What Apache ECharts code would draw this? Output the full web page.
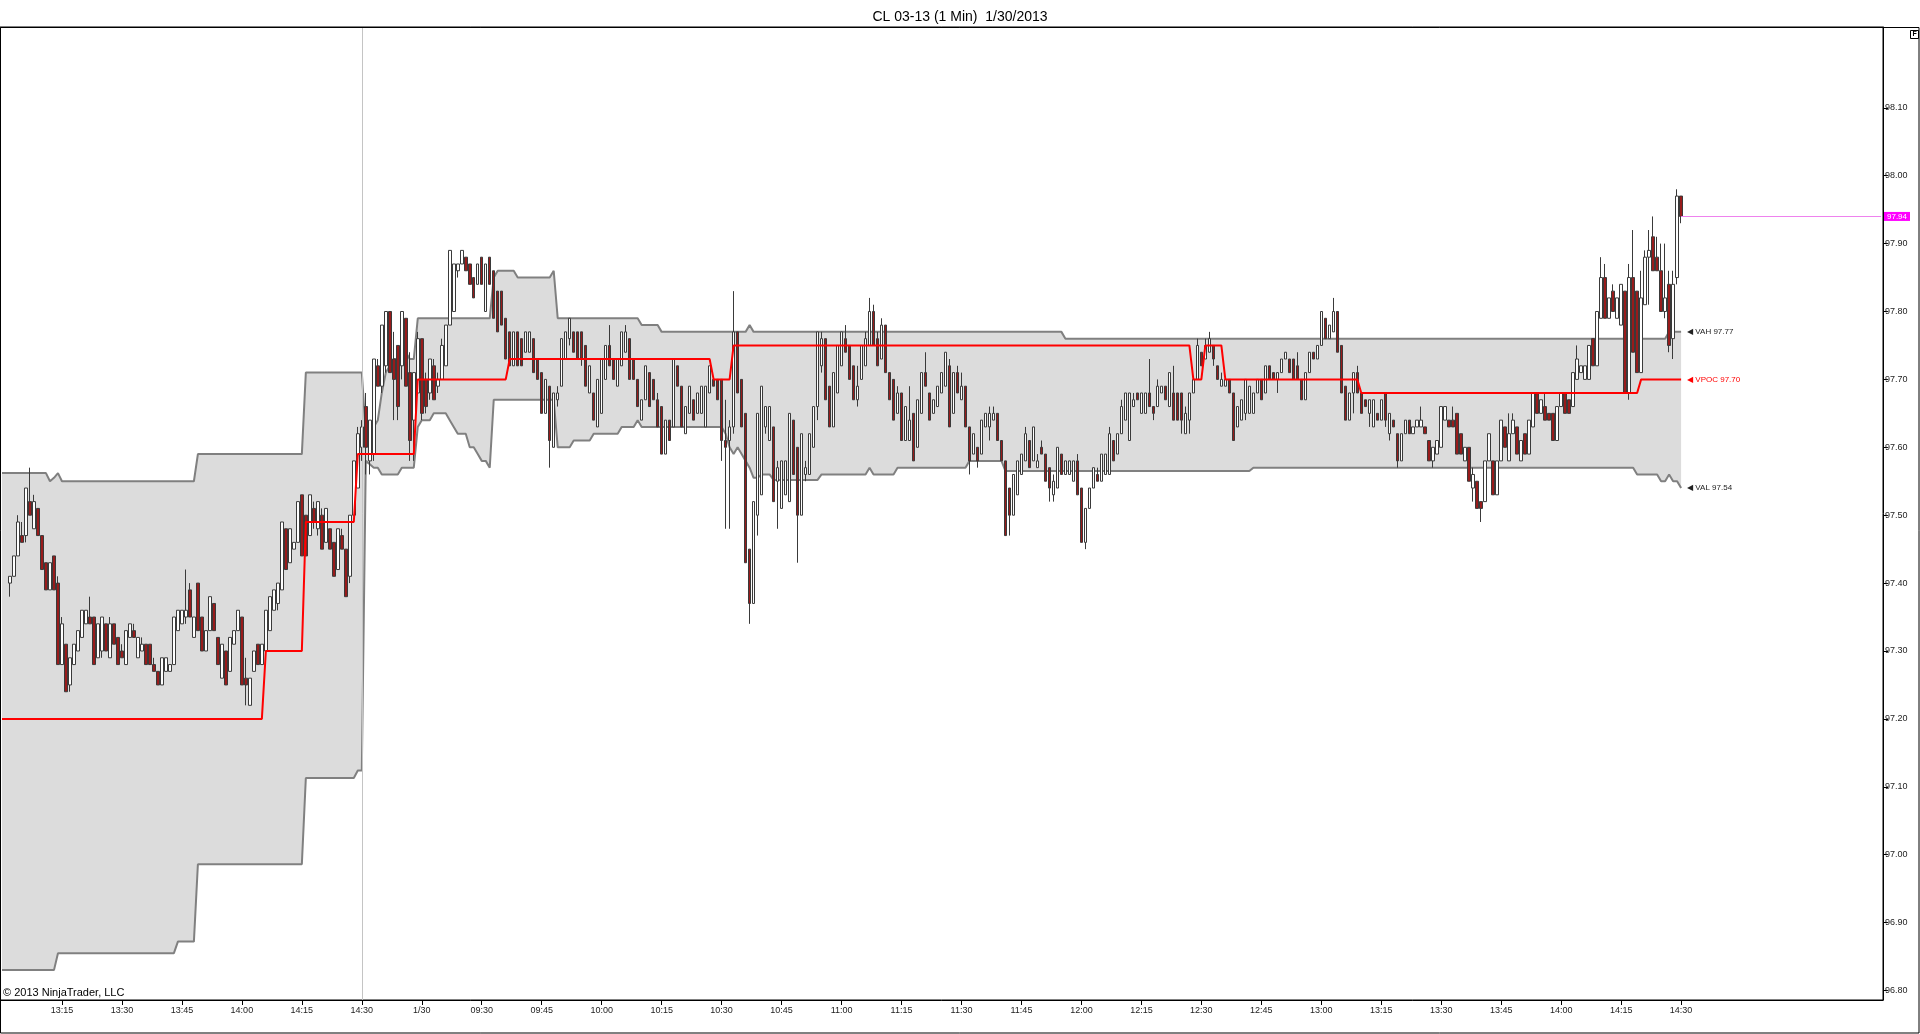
<!DOCTYPE html>
<html><head><meta charset="utf-8">
<script src="https://cdn.jsdelivr.net/npm/echarts@6/dist/echarts.min.js"></script>
<style>html,body{margin:0;padding:0;background:#fff}#c{width:1920px;height:1034px}</style>
</head><body><div id="c"></div><script>
const chartTitle = 'CL 03-13 (1 Min)  1/30/2013';
const copyright = '\u00A9 2013 NinjaTrader, LLC';
const yTickValues = [96.8,96.9,97.0,97.1,97.2,97.3,97.4,97.5,97.6,97.7,97.8,97.9,98.0,98.1];
const xTickIndex = [15,30,45,60,75,90,105,120,135,150,165,180,195,210,225,240,255,270,285,300,315,330,345,360,375,390,405,420];
const xTickLabels = ['13:15','13:30','13:45','14:00','14:15','14:30','1/30','09:30','09:45','10:00','10:15','10:30','10:45','11:00','11:15','11:30','11:45','12:00','12:15','12:30','12:45','13:00','13:15','13:30','13:45','14:00','14:15','14:30'];
const lastPrice = 97.94;
const endTexts = {vah:'VAH 97.77', vpoc:'VPOC 97.70', val:'VAL 97.54'};

// previous session bars (1/29 13:00 .. 14:30), [open, close, low, high]
const prevBars = [null,null,
[97.40,97.41,97.38,97.41],[97.41,97.44,97.41,97.44],[97.44,97.49,97.44,97.50],[97.47,97.46,97.46,97.49],[97.47,97.54,97.46,97.54],
[97.52,97.50,97.50,97.57],[97.48,97.52,97.48,97.53],[97.51,97.47,97.47,97.51],[97.47,97.42,97.42,97.47],[97.43,97.39,97.39,97.43],
[97.39,97.43,97.39,97.43],[97.44,97.39,97.39,97.44],[97.40,97.28,97.28,97.41],[97.28,97.34,97.28,97.35],[97.31,97.24,97.24,97.31],
[97.25,97.29,97.24,97.29],[97.28,97.31,97.28,97.31],[97.30,97.33,97.30,97.33],[97.32,97.36,97.32,97.36],[97.34,97.36,97.34,97.36],
[97.35,97.34,97.34,97.38],[97.35,97.28,97.28,97.35],[97.29,97.34,97.29,97.34],[97.30,97.35,97.29,97.35],[97.34,97.30,97.30,97.34],
[97.29,97.34,97.29,97.35],[97.34,97.31,97.31,97.34],[97.32,97.28,97.28,97.32],[97.30,97.29,97.29,97.31],[97.28,97.33,97.28,97.33],
[97.32,97.34,97.32,97.34],[97.33,97.32,97.32,97.34],[97.29,97.32,97.29,97.32],[97.30,97.31,97.30,97.32],[97.31,97.28,97.28,97.31],
[97.31,97.28,97.28,97.31],[97.28,97.27,97.27,97.29],[97.27,97.25,97.25,97.27],[97.25,97.29,97.25,97.29],[97.27,97.29,97.27,97.29],
[97.27,97.28,97.27,97.28],[97.28,97.35,97.28,97.35],[97.33,97.36,97.33,97.36],[97.34,97.36,97.34,97.36],[97.35,97.36,97.34,97.42],
[97.39,97.35,97.35,97.40],[97.32,97.35,97.32,97.35],[97.40,97.33,97.33,97.40],[97.35,97.30,97.30,97.35],[97.30,97.33,97.30,97.33],
[97.33,97.38,97.33,97.38],[97.37,97.33,97.33,97.37],[97.32,97.28,97.28,97.32],[97.26,97.31,97.26,97.31],[97.30,97.25,97.25,97.30],
[97.27,97.32,97.27,97.32],[97.31,97.33,97.31,97.33],[97.33,97.36,97.33,97.36],[97.35,97.25,97.25,97.35],[97.26,97.25,97.22,97.29],
[97.22,97.26,97.22,97.26],[97.27,97.30,97.27,97.30],[97.31,97.28,97.28,97.31],[97.28,97.31,97.28,97.31],[97.30,97.36,97.30,97.36],
[97.33,97.38,97.33,97.38],[97.36,97.39,97.36,97.39],[97.37,97.40,97.36,97.40],[97.39,97.49,97.39,97.49],[97.48,97.42,97.42,97.48],
[97.43,97.48,97.43,97.48],[97.45,97.46,97.45,97.46],[97.46,97.52,97.46,97.52],[97.53,97.44,97.44,97.53],[97.50,97.44,97.44,97.50],
[97.47,97.53,97.47,97.53],[97.51,97.49,97.48,97.52],[97.48,97.52,97.47,97.52],[97.50,97.45,97.45,97.51],[97.46,97.51,97.46,97.51],
[97.48,97.45,97.45,97.48],[97.46,97.41,97.41,97.46],[97.42,97.48,97.42,97.48],[97.47,97.45,97.45,97.48],[97.45,97.38,97.38,97.45],
[97.41,97.50,97.40,97.50],[97.50,97.58,97.50,97.58],[97.54,97.62,97.54,97.63],[97.60,97.63,97.58,97.64]
];

// current session bars (1/30 09:01 .. 14:30), [open, close, low, high]
const todayBars = [
[97.66,97.60,97.56,97.68],[97.58,97.64,97.56,97.64],[97.59,97.73,97.58,97.73],[97.72,97.69,97.69,97.73],[97.69,97.78,97.68,97.78],
[97.72,97.80,97.71,97.80],[97.80,97.71,97.71,97.80],[97.73,97.70,97.64,97.77],[97.75,97.66,97.64,97.75],[97.72,97.80,97.70,97.80],
[97.79,97.69,97.69,97.79],[97.71,97.61,97.58,97.74],[97.64,97.71,97.58,97.71],[97.68,97.76,97.68,97.77],[97.76,97.65,97.64,97.76],
[97.70,97.66,97.65,97.71],[97.68,97.73,97.67,97.73],[97.72,97.67,97.67,97.73],[97.69,97.70,97.68,97.71],[97.70,97.75,97.70,97.76],
[97.72,97.78,97.72,97.78],[97.78,97.89,97.78,97.89],[97.80,97.87,97.80,97.87],[97.86,97.87,97.85,97.87],[97.87,97.89,97.87,97.89],
[97.88,97.86,97.86,97.88],[97.87,97.84,97.84,97.87],[97.85,97.82,97.82,97.85],[97.84,97.87,97.84,97.87],[97.88,97.84,97.84,97.88],
[97.80,97.87,97.80,97.87],[97.88,97.84,97.84,97.88],[97.86,97.79,97.79,97.86],[97.83,97.77,97.77,97.83],[97.83,97.78,97.78,97.83],
[97.79,97.73,97.73,97.79],[97.77,97.72,97.72,97.77],[97.72,97.77,97.72,97.77],[97.77,97.72,97.72,97.77],[97.76,97.72,97.72,97.76],
[97.74,97.77,97.74,97.77],[97.74,97.77,97.74,97.77],[97.76,97.71,97.71,97.76],[97.73,97.70,97.70,97.73],[97.71,97.65,97.65,97.71],
[97.65,97.70,97.65,97.70],[97.69,97.61,97.57,97.69],[97.60,97.68,97.60,97.68],[97.67,97.68,97.66,97.69],[97.69,97.76,97.69,97.76],
[97.73,97.77,97.73,97.77],[97.76,97.79,97.75,97.79],[97.77,97.74,97.74,97.77],[97.77,97.73,97.73,97.77],[97.77,97.73,97.72,97.77],
[97.75,97.69,97.69,97.75],[97.68,97.72,97.68,97.72],[97.68,97.64,97.64,97.68],[97.63,97.70,97.63,97.70],[97.65,97.73,97.65,97.73],
[97.70,97.75,97.70,97.75],[97.75,97.72,97.72,97.78],[97.73,97.70,97.70,97.73],[97.69,97.73,97.69,97.73],[97.72,97.77,97.72,97.77],
[97.74,97.77,97.74,97.78],[97.76,97.70,97.70,97.76],[97.73,97.70,97.70,97.73],[97.70,97.66,97.66,97.70],[97.64,97.67,97.64,97.67],
[97.67,97.72,97.67,97.72],[97.71,97.66,97.66,97.71],[97.70,97.67,97.67,97.70],[97.67,97.63,97.63,97.68],[97.66,97.59,97.59,97.66],
[97.59,97.64,97.59,97.64],[97.64,97.61,97.61,97.64],[97.63,97.73,97.63,97.73],[97.72,97.69,97.69,97.72],[97.69,97.63,97.63,97.69],
[97.62,97.66,97.62,97.66],[97.65,97.69,97.65,97.69],[97.67,97.64,97.64,97.67],[97.65,97.68,97.65,97.68],[97.65,97.69,97.65,97.69],
[97.63,97.69,97.63,97.69],[97.68,97.72,97.68,97.72],[97.70,97.69,97.69,97.70],[97.70,97.67,97.67,97.70],[97.70,97.61,97.58,97.70],
[97.61,97.60,97.48,97.67],[97.61,97.63,97.48,97.64],[97.63,97.77,97.62,97.83],[97.77,97.68,97.68,97.77],[97.70,97.63,97.63,97.70],
[97.65,97.43,97.43,97.65],[97.45,97.37,97.34,97.45],[97.37,97.52,97.37,97.52],[97.50,97.65,97.47,97.65],[97.53,97.69,97.53,97.69],
[97.63,97.66,97.62,97.66],[97.61,97.66,97.61,97.66],[97.63,97.52,97.52,97.63],[97.55,97.57,97.48,97.58],[97.51,97.58,97.51,97.58],
[97.53,97.58,97.53,97.58],[97.52,97.65,97.52,97.65],[97.64,97.56,97.56,97.64],[97.60,97.50,97.43,97.60],[97.50,97.62,97.50,97.62],
[97.56,97.57,97.55,97.58],[97.56,97.62,97.56,97.62],[97.60,97.66,97.60,97.66],[97.66,97.77,97.64,97.77],[97.72,97.76,97.71,97.77],
[97.76,97.67,97.67,97.76],[97.69,97.63,97.63,97.69],[97.63,97.71,97.63,97.71],[97.68,97.75,97.68,97.75],[97.72,97.77,97.72,97.77],
[97.76,97.74,97.74,97.78],[97.75,97.70,97.70,97.75],[97.72,97.67,97.67,97.72],[97.67,97.69,97.66,97.72],[97.70,97.75,97.70,97.75],
[97.72,97.76,97.72,97.77],[97.75,97.80,97.75,97.82],[97.80,97.75,97.75,97.81],[97.76,97.72,97.72,97.77],[97.73,97.78,97.73,97.79],
[97.78,97.71,97.71,97.78],[97.71,97.67,97.67,97.71],[97.70,97.64,97.64,97.70],[97.65,97.68,97.65,97.69],[97.68,97.61,97.61,97.68],
[97.61,97.66,97.61,97.66],[97.61,97.64,97.61,97.69],[97.65,97.58,97.58,97.65],[97.60,97.67,97.60,97.67],[97.65,97.71,97.65,97.71],
[97.71,97.69,97.69,97.74],[97.68,97.64,97.64,97.68],[97.65,97.67,97.65,97.67],[97.66,97.69,97.66,97.69],[97.68,97.71,97.68,97.71],
[97.69,97.74,97.69,97.74],[97.72,97.63,97.63,97.73],[97.65,97.71,97.65,97.71],[97.71,97.68,97.68,97.72],[97.67,97.69,97.67,97.71],
[97.69,97.63,97.63,97.69],[97.63,97.58,97.56,97.63],[97.59,97.62,97.59,97.62],[97.60,97.58,97.57,97.60],[97.59,97.64,97.59,97.64],
[97.63,97.65,97.63,97.65],[97.63,97.65,97.61,97.66],[97.64,97.65,97.64,97.66],[97.65,97.61,97.61,97.65],[97.61,97.58,97.58,97.61],
[97.58,97.47,97.47,97.58],[97.54,97.50,97.47,97.54],[97.50,97.56,97.50,97.56],[97.53,97.58,97.53,97.58],[97.56,97.59,97.56,97.59],
[97.58,97.62,97.58,97.63],[97.61,97.57,97.57,97.61],[97.58,97.63,97.58,97.63],[97.57,97.58,97.57,97.59],[97.60,97.59,97.59,97.61],
[97.59,97.55,97.55,97.59],[97.57,97.54,97.52,97.57],[97.53,97.55,97.52,97.56],[97.54,97.60,97.54,97.60],[97.59,97.56,97.56,97.59],
[97.56,97.58,97.56,97.58],[97.56,97.58,97.56,97.58],[97.55,97.58,97.55,97.58],[97.58,97.53,97.53,97.59],[97.54,97.46,97.46,97.54],
[97.46,97.51,97.45,97.51],[97.51,97.54,97.51,97.54],[97.54,97.57,97.54,97.57],[97.56,97.55,97.55,97.57],[97.55,97.59,97.55,97.59],
[97.56,97.59,97.56,97.59],[97.56,97.62,97.56,97.63],[97.61,97.58,97.58,97.61],[97.59,97.62,97.59,97.62],[97.62,97.66,97.62,97.67],
[97.64,97.68,97.64,97.68],[97.61,97.68,97.61,97.68],[97.66,97.67,97.66,97.68],[97.68,97.67,97.67,97.68],[97.65,97.68,97.65,97.68],
[97.65,97.68,97.65,97.68],[97.68,97.66,97.66,97.73],[97.66,97.65,97.64,97.66],[97.66,97.69,97.66,97.70],[97.68,97.69,97.68,97.69],
[97.69,97.67,97.67,97.69],[97.66,97.71,97.66,97.71],[97.68,97.64,97.64,97.72],[97.68,97.64,97.64,97.68],[97.68,97.64,97.62,97.68],
[97.62,97.65,97.62,97.66],[97.64,97.68,97.62,97.68],[97.68,97.70,97.68,97.70],[97.70,97.75,97.70,97.76],[97.74,97.72,97.72,97.74],
[97.73,97.75,97.73,97.76],[97.74,97.76,97.74,97.77],[97.75,97.73,97.72,97.75],[97.72,97.70,97.70,97.72],[97.69,97.70,97.69,97.71],
[97.69,97.70,97.69,97.70],[97.70,97.68,97.68,97.70],[97.68,97.61,97.61,97.68],[97.63,97.66,97.63,97.66],[97.64,97.67,97.64,97.67],
[97.65,97.70,97.64,97.70],[97.65,97.69,97.65,97.69],[97.65,97.68,97.65,97.68],[97.68,97.70,97.68,97.70],[97.70,97.67,97.67,97.70],
[97.68,97.72,97.68,97.72],[97.72,97.70,97.70,97.72],[97.71,97.70,97.70,97.71],[97.70,97.71,97.68,97.71],[97.71,97.73,97.71,97.73],
[97.73,97.74,97.73,97.74],[97.73,97.71,97.71,97.73],[97.73,97.70,97.70,97.73],[97.72,97.70,97.70,97.74],[97.70,97.67,97.67,97.70],
[97.67,97.71,97.67,97.71],[97.71,97.74,97.71,97.74],[97.74,97.73,97.73,97.74],[97.73,97.75,97.73,97.75],[97.75,97.80,97.75,97.80],
[97.79,97.76,97.76,97.79],[97.76,97.78,97.76,97.78],[97.77,97.80,97.77,97.82],[97.80,97.74,97.74,97.80],[97.75,97.68,97.68,97.75],
[97.69,97.64,97.64,97.69],[97.64,97.68,97.64,97.68],[97.68,97.71,97.65,97.71],[97.71,97.68,97.68,97.72],[97.68,97.65,97.65,97.68],
[97.67,97.66,97.66,97.67],[97.65,97.67,97.63,97.67],[97.63,97.67,97.63,97.67],[97.65,97.64,97.64,97.65],[97.64,97.67,97.64,97.67],
[97.68,97.64,97.63,97.68],[97.62,97.65,97.61,97.65],[97.64,97.63,97.63,97.64],[97.62,97.58,97.57,97.62],[97.58,97.62,97.58,97.62],
[97.62,97.64,97.62,97.64],[97.64,97.62,97.62,97.64],[97.62,97.63,97.62,97.63],[97.63,97.64,97.63,97.64],[97.63,97.64,97.63,97.66],
[97.63,97.62,97.62,97.63],[97.61,97.58,97.58,97.61],[97.58,97.60,97.57,97.60],[97.59,97.61,97.59,97.61],[97.60,97.66,97.60,97.66],
[97.64,97.66,97.64,97.66],[97.64,97.63,97.63,97.64],[97.64,97.63,97.63,97.66],[97.65,97.59,97.59,97.65],[97.62,97.59,97.59,97.62],
[97.58,97.60,97.58,97.60],[97.60,97.55,97.55,97.60],[97.54,97.56,97.52,97.57],[97.55,97.51,97.51,97.55],[97.52,97.51,97.49,97.52],
[97.52,97.58,97.52,97.58],[97.58,97.62,97.58,97.62],[97.58,97.53,97.53,97.58],[97.53,97.58,97.53,97.58],[97.58,97.64,97.58,97.64],
[97.63,97.60,97.60,97.63],[97.58,97.62,97.58,97.65],[97.62,97.64,97.62,97.65],[97.63,97.59,97.59,97.63],[97.58,97.61,97.58,97.61],
[97.62,97.59,97.59,97.62],[97.59,97.64,97.59,97.64],[97.63,97.68,97.63,97.68],[97.68,97.65,97.65,97.68],[97.65,97.67,97.65,97.67],
[97.66,97.64,97.64,97.68],[97.65,97.64,97.64,97.65],[97.65,97.61,97.61,97.65],[97.61,97.66,97.61,97.66],[97.66,97.68,97.66,97.68],
[97.68,97.65,97.65,97.68],[97.67,97.65,97.65,97.67],[97.66,97.71,97.66,97.71],[97.70,97.73,97.70,97.75],[97.71,97.72,97.71,97.72],
[97.70,97.72,97.70,97.72],[97.70,97.75,97.70,97.75],[97.76,97.72,97.72,97.76],[97.72,97.80,97.72,97.80],[97.79,97.85,97.79,97.88],
[97.85,97.79,97.79,97.87],[97.79,97.82,97.79,97.82],[97.83,97.80,97.80,97.84],[97.79,97.82,97.79,97.82],[97.78,97.84,97.78,97.84],
[97.83,97.68,97.68,97.83],[97.68,97.85,97.67,97.87],[97.85,97.74,97.74,97.92],[97.83,97.71,97.71,97.83],[97.71,97.82,97.71,97.86],
[97.81,97.88,97.81,97.89],[97.88,97.89,97.81,97.92],[97.91,97.86,97.86,97.94],[97.88,97.86,97.86,97.91],[97.86,97.80,97.80,97.90],
[97.80,97.82,97.79,97.90],[97.84,97.75,97.74,97.86],[97.76,97.84,97.73,97.86],[97.85,97.97,97.84,97.98],[97.97,97.94,97.93,97.97]
];

// developing value area / VPOC, previous session
const vahPrev = [
97.562,97.562,97.562,97.562,97.562,97.562,97.562,97.562,97.562,97.562,
97.562,97.562,97.55,97.555,97.562,97.55,97.55,97.55,97.55,97.55,
97.55,97.55,97.55,97.55,97.55,97.55,97.55,97.55,97.55,97.55,
97.55,97.55,97.55,97.55,97.55,97.55,97.55,97.55,97.55,97.55,
97.55,97.55,97.55,97.55,97.55,97.55,97.55,97.55,97.55,97.59,
97.59,97.59,97.59,97.59,97.59,97.59,97.59,97.59,97.59,97.59,
97.59,97.59,97.59,97.59,97.59,97.59,97.59,97.59,97.59,97.59,
97.59,97.59,97.59,97.59,97.59,97.59,97.71,97.71,97.71,97.71,
97.71,97.71,97.71,97.71,97.71,97.71,97.71,97.71,97.71,97.71,
97.71];
const valPrev = [
96.83,96.83,96.83,96.83,96.83,96.83,96.83,96.83,96.83,96.83,
96.83,96.83,96.83,96.83,96.855,96.855,96.855,96.855,96.855,96.855,
96.855,96.855,96.855,96.855,96.855,96.855,96.855,96.855,96.855,96.855,
96.855,96.855,96.855,96.855,96.855,96.855,96.855,96.855,96.855,96.855,
96.855,96.855,96.855,96.855,96.872,96.872,96.872,96.872,96.872,96.986,
96.986,96.986,96.986,96.986,96.986,96.986,96.986,96.986,96.986,96.986,
96.986,96.986,96.986,96.986,96.986,96.986,96.986,96.986,96.986,96.986,
96.986,96.986,96.986,96.986,96.986,96.986,97.113,97.113,97.113,97.113,
97.113,97.113,97.113,97.113,97.113,97.113,97.113,97.113,97.113,97.124,
97.124];
const vpocPrev = [
97.2,97.2,97.2,97.2,97.2,97.2,97.2,97.2,97.2,97.2,
97.2,97.2,97.2,97.2,97.2,97.2,97.2,97.2,97.2,97.2,
97.2,97.2,97.2,97.2,97.2,97.2,97.2,97.2,97.2,97.2,
97.2,97.2,97.2,97.2,97.2,97.2,97.2,97.2,97.2,97.2,
97.2,97.2,97.2,97.2,97.2,97.2,97.2,97.2,97.2,97.2,
97.2,97.2,97.2,97.2,97.2,97.2,97.2,97.2,97.2,97.2,
97.2,97.2,97.2,97.2,97.2,97.2,97.3,97.3,97.3,97.3,
97.3,97.3,97.3,97.3,97.3,97.3,97.49,97.49,97.49,97.49,
97.49,97.49,97.49,97.49,97.49,97.49,97.49,97.49,97.49,97.59,
97.59];

// developing value area / VPOC, current session
const vahToday = [
97.62,97.62,97.63,97.64,97.68,97.71,97.72,97.73,97.73,97.74,
97.74,97.73,97.73,97.79,97.79,97.79,97.79,97.79,97.79,97.79,
97.79,97.79,97.79,97.79,97.79,97.79,97.79,97.79,97.79,97.79,
97.79,97.79,97.85,97.86,97.86,97.86,97.86,97.86,97.85,97.85,
97.85,97.85,97.85,97.85,97.85,97.85,97.85,97.86,97.79,97.79,
97.79,97.79,97.79,97.79,97.79,97.79,97.79,97.79,97.79,97.79,
97.79,97.79,97.79,97.79,97.79,97.79,97.79,97.79,97.79,97.78,
97.78,97.78,97.78,97.78,97.77,97.77,97.77,97.77,97.77,97.77,
97.77,97.77,97.77,97.77,97.77,97.77,97.77,97.77,97.77,97.77,
97.77,97.77,97.77,97.77,97.77,97.77,97.78,97.77,97.77,97.77,
97.77,97.77,97.77,97.77,97.77,97.77,97.77,97.77,97.77,97.77,
97.77,97.77,97.77,97.77,97.77,97.77,97.77,97.77,97.77,97.77,
97.77,97.77,97.77,97.77,97.77,97.77,97.77,97.77,97.77,97.77,
97.77,97.77,97.77,97.77,97.77,97.77,97.77,97.77,97.77,97.77,
97.77,97.77,97.77,97.77,97.77,97.77,97.77,97.77,97.77,97.77,
97.77,97.77,97.77,97.77,97.77,97.77,97.77,97.77,97.77,97.77,
97.77,97.77,97.77,97.77,97.77,97.77,97.77,97.77,97.77,97.77,
97.77,97.77,97.77,97.77,97.77,97.76,97.76,97.76,97.76,97.76,
97.76,97.76,97.76,97.76,97.76,97.76,97.76,97.76,97.76,97.76,
97.76,97.76,97.76,97.76,97.76,97.76,97.76,97.76,97.76,97.76,
97.76,97.76,97.76,97.76,97.76,97.76,97.76,97.76,97.76,97.76,
97.76,97.76,97.76,97.76,97.76,97.76,97.76,97.76,97.76,97.76,
97.76,97.76,97.76,97.76,97.76,97.76,97.76,97.76,97.76,97.76,
97.76,97.76,97.76,97.76,97.76,97.76,97.76,97.76,97.76,97.76,
97.76,97.76,97.76,97.76,97.76,97.76,97.76,97.76,97.76,97.76,
97.76,97.76,97.76,97.76,97.76,97.76,97.76,97.76,97.76,97.76,
97.76,97.76,97.76,97.76,97.76,97.76,97.76,97.76,97.76,97.76,
97.76,97.76,97.76,97.76,97.76,97.76,97.76,97.76,97.76,97.76,
97.76,97.76,97.76,97.76,97.76,97.76,97.76,97.76,97.76,97.76,
97.76,97.76,97.76,97.76,97.76,97.76,97.76,97.76,97.76,97.76,
97.76,97.76,97.76,97.76,97.76,97.76,97.76,97.76,97.76,97.76,
97.76,97.76,97.76,97.76,97.76,97.76,97.76,97.76,97.76,97.76,
97.76,97.76,97.76,97.76,97.76,97.76,97.77,97.77,97.77,97.77];
const valToday = [
97.58,97.575,97.57,97.57,97.56,97.56,97.56,97.56,97.56,97.57,
97.57,97.57,97.57,97.63,97.64,97.64,97.64,97.65,97.65,97.65,
97.65,97.64,97.63,97.62,97.62,97.62,97.60,97.60,97.59,97.58,
97.58,97.57,97.67,97.67,97.67,97.67,97.67,97.67,97.67,97.67,
97.67,97.67,97.67,97.67,97.67,97.67,97.67,97.67,97.60,97.60,
97.60,97.60,97.61,97.61,97.61,97.61,97.61,97.62,97.62,97.62,
97.62,97.62,97.62,97.62,97.63,97.63,97.63,97.63,97.64,97.63,
97.63,97.63,97.63,97.63,97.63,97.63,97.63,97.63,97.63,97.63,
97.63,97.63,97.63,97.63,97.63,97.63,97.63,97.63,97.63,97.63,
97.62,97.60,97.59,97.60,97.59,97.58,97.57,97.555,97.555,97.56,
97.56,97.56,97.552,97.552,97.552,97.552,97.552,97.552,97.552,97.552,
97.552,97.552,97.552,97.552,97.56,97.56,97.56,97.56,97.56,97.56,
97.56,97.56,97.56,97.56,97.56,97.56,97.57,97.56,97.56,97.56,
97.56,97.56,97.56,97.57,97.57,97.57,97.57,97.57,97.57,97.57,
97.57,97.57,97.57,97.57,97.57,97.57,97.57,97.57,97.57,97.57,
97.57,97.58,97.58,97.58,97.58,97.58,97.58,97.58,97.58,97.58,
97.565,97.565,97.565,97.565,97.565,97.565,97.565,97.565,97.565,97.565,
97.565,97.565,97.565,97.565,97.565,97.565,97.565,97.565,97.565,97.565,
97.565,97.565,97.565,97.565,97.565,97.565,97.565,97.565,97.565,97.565,
97.565,97.565,97.565,97.565,97.565,97.565,97.565,97.565,97.565,97.565,
97.565,97.565,97.565,97.565,97.565,97.565,97.565,97.565,97.565,97.565,
97.565,97.565,97.565,97.565,97.565,97.565,97.565,97.565,97.565,97.565,
97.565,97.565,97.57,97.57,97.57,97.57,97.57,97.57,97.57,97.57,
97.57,97.57,97.57,97.57,97.57,97.57,97.57,97.57,97.57,97.57,
97.57,97.57,97.57,97.57,97.57,97.57,97.57,97.57,97.57,97.57,
97.57,97.57,97.57,97.57,97.57,97.57,97.57,97.57,97.57,97.57,
97.57,97.57,97.57,97.57,97.57,97.57,97.57,97.57,97.57,97.57,
97.57,97.57,97.57,97.57,97.57,97.57,97.57,97.57,97.57,97.57,
97.57,97.57,97.57,97.57,97.57,97.57,97.57,97.57,97.57,97.57,
97.57,97.57,97.57,97.57,97.57,97.57,97.57,97.57,97.57,97.57,
97.57,97.57,97.57,97.57,97.57,97.57,97.57,97.57,97.57,97.57,
97.57,97.57,97.57,97.57,97.57,97.57,97.57,97.57,97.56,97.56,
97.56,97.56,97.56,97.56,97.55,97.55,97.56,97.55,97.55,97.54];
const vpocToday = [
97.59,97.59,97.59,97.59,97.59,97.59,97.59,97.59,97.59,97.59,
97.59,97.59,97.59,97.70,97.70,97.70,97.70,97.70,97.70,97.70,
97.70,97.70,97.70,97.70,97.70,97.70,97.70,97.70,97.70,97.70,
97.70,97.70,97.70,97.70,97.70,97.70,97.73,97.73,97.73,97.73,
97.73,97.73,97.73,97.73,97.73,97.73,97.73,97.73,97.73,97.73,
97.73,97.73,97.73,97.73,97.73,97.73,97.73,97.73,97.73,97.73,
97.73,97.73,97.73,97.73,97.73,97.73,97.73,97.73,97.73,97.73,
97.73,97.73,97.73,97.73,97.73,97.73,97.73,97.73,97.73,97.73,
97.73,97.73,97.73,97.73,97.73,97.73,97.73,97.70,97.70,97.70,
97.70,97.70,97.75,97.75,97.75,97.75,97.75,97.75,97.75,97.75,
97.75,97.75,97.75,97.75,97.75,97.75,97.75,97.75,97.75,97.75,
97.75,97.75,97.75,97.75,97.75,97.75,97.75,97.75,97.75,97.75,
97.75,97.75,97.75,97.75,97.75,97.75,97.75,97.75,97.75,97.75,
97.75,97.75,97.75,97.75,97.75,97.75,97.75,97.75,97.75,97.75,
97.75,97.75,97.75,97.75,97.75,97.75,97.75,97.75,97.75,97.75,
97.75,97.75,97.75,97.75,97.75,97.75,97.75,97.75,97.75,97.75,
97.75,97.75,97.75,97.75,97.75,97.75,97.75,97.75,97.75,97.75,
97.75,97.75,97.75,97.75,97.75,97.75,97.75,97.75,97.75,97.75,
97.75,97.75,97.75,97.75,97.75,97.75,97.75,97.75,97.75,97.75,
97.75,97.75,97.75,97.75,97.75,97.75,97.75,97.75,97.75,97.75,
97.75,97.75,97.75,97.75,97.75,97.75,97.75,97.70,97.70,97.70,
97.75,97.75,97.75,97.75,97.75,97.70,97.70,97.70,97.70,97.70,
97.70,97.70,97.70,97.70,97.70,97.70,97.70,97.70,97.70,97.70,
97.70,97.70,97.70,97.70,97.70,97.70,97.70,97.70,97.70,97.70,
97.70,97.70,97.70,97.70,97.70,97.70,97.70,97.70,97.70,97.68,
97.68,97.68,97.68,97.68,97.68,97.68,97.68,97.68,97.68,97.68,
97.68,97.68,97.68,97.68,97.68,97.68,97.68,97.68,97.68,97.68,
97.68,97.68,97.68,97.68,97.68,97.68,97.68,97.68,97.68,97.68,
97.68,97.68,97.68,97.68,97.68,97.68,97.68,97.68,97.68,97.68,
97.68,97.68,97.68,97.68,97.68,97.68,97.68,97.68,97.68,97.68,
97.68,97.68,97.68,97.68,97.68,97.68,97.68,97.68,97.68,97.68,
97.68,97.68,97.68,97.68,97.68,97.68,97.68,97.68,97.68,97.70,
97.70,97.70,97.70,97.70,97.70,97.70,97.70,97.70,97.70,97.70];

// ---- build categories (bar times) ----
const prevStart = 13 * 60, todayStart = 9 * 60, totalSlots = 471;
function hhmm(m){ const h = Math.floor(m/60), mm = m % 60; return (h<10?'0':'')+h+':'+(mm<10?'0':'')+mm; }
const cats = [];
for (let i = 0; i < totalSlots; i++) {
  if (i < prevBars.length) cats.push('1/29 ' + hhmm(prevStart + i));
  else cats.push('1/30 ' + hhmm(todayStart + (i - prevBars.length + 1)));
}
const tickMap = {};
xTickIndex.forEach((k, j) => { tickMap[k] = xTickLabels[j]; });

const bars = prevBars.concat(todayBars).map(b => b ? b : ['-','-','-','-']);
const vahAll = vahPrev.concat(vahToday);
const valAll = valPrev.concat(valToday);
const vpocAll = vpocPrev.concat(vpocToday);
const rangeAll = vahAll.map((v, k) => +(v - valAll[k]).toFixed(4));
const lastIdx = bars.length - 1;

const FONT = '"Liberation Sans", Arial, sans-serif';
const NARROW = '"Liberation Sans Narrow", "Liberation Sans", Arial, sans-serif';
const chart = echarts.init(document.getElementById('c'), null, {renderer: 'canvas'});
chart.setOption({
  animation: false,
  backgroundColor: '#ffffff',
  title: { text: chartTitle, left: 'center', top: 5, textStyle: { fontSize: 14, fontWeight: 'normal', color: '#000', fontFamily: FONT } },
  grid: { left: -1, right: 37, top: 27, bottom: 34, show: true, borderColor: '#000', borderWidth: 1, backgroundColor: '#fff' },
  xAxis: {
    type: 'category', data: cats, boundaryGap: true,
    axisLine: { show: true, lineStyle: { color: '#000', width: 1 } },
    axisTick: { show: true, alignWithLabel: true, length: 5, interval: (idx) => tickMap[idx] !== undefined, lineStyle: { color: '#000' } },
    axisLabel: { interval: (idx) => tickMap[idx] !== undefined, formatter: (v, idx) => tickMap[idx] || '', fontSize: 9, color: '#222', margin: 6, fontFamily: NARROW },
    splitLine: { show: false }
  },
  yAxis: {
    type: 'value', position: 'right', min: 96.786, max: 98.219,
    axisLine: { show: true, lineStyle: { color: '#000', width: 1 } },
    axisTick: { show: true, inside: false, length: 5, customValues: yTickValues, lineStyle: { color: '#000' } },
    axisLabel: { customValues: yTickValues, formatter: v => v.toFixed(2), fontSize: 9, color: '#222', margin: 2, fontFamily: NARROW },
    splitLine: { show: false }
  },
  series: [
    { name: 'VAL', type: 'line', data: valAll, stack: 'va', symbol: 'none', z: 3,
      lineStyle: { color: '#808080', width: 2 },
      endLabel: { show: true, formatter: () => '\u25C0 ' + endTexts.val, color: '#222', fontSize: 8, fontFamily: FONT, distance: 6 } },
    { name: 'VA', type: 'line', data: rangeAll, stack: 'va', symbol: 'none', z: 2,
      lineStyle: { color: '#808080', width: 2 },
      areaStyle: { color: '#dcdcdc', opacity: 1 },
      endLabel: { show: true, formatter: () => '\u25C0 ' + endTexts.vah, color: '#222', fontSize: 8, fontFamily: FONT, distance: 6 } },
    { name: 'Price', type: 'candlestick', data: bars, barWidth: 3, z: 4,
      itemStyle: { color: '#ffffff', color0: '#981b1b', borderColor: '#3a3a3a', borderColor0: '#3a3a3a', borderWidth: 1 },
      markLine: {
        silent: true, symbol: ['none', 'none'], animation: false,
        data: [
          { xAxis: cats[90], lineStyle: { color: '#c4c4c4', width: 1, type: 'solid' }, label: { show: false } },
          [ { coord: [cats[lastIdx], lastPrice] }, { coord: [cats[totalSlots - 1], lastPrice],
              lineStyle: { color: '#ee82ee', width: 1, type: 'solid' },
              label: { show: true, position: 'end', formatter: lastPrice.toFixed(2), color: '#fff', backgroundColor: '#ff00ff', padding: [1, 3, 0, 3], fontSize: 8, fontFamily: FONT, distance: 3 } } ]
        ]
      } },
    { name: 'VPOC', type: 'line', data: vpocAll, symbol: 'none', z: 5,
      lineStyle: { color: '#ff0000', width: 2 },
      endLabel: { show: true, formatter: () => '\u25C0 ' + endTexts.vpoc, color: '#ff0000', fontSize: 8, fontFamily: FONT, distance: 6 } }
  ],
  graphic: [
    { type: 'rect', shape: { x: 0.5, y: 27.5, width: 1918.5, height: 1005.5 }, style: { fill: 'none', stroke: '#000', lineWidth: 1 }, z: 100 },
    { type: 'text', left: 3, top: 987, style: { text: copyright, fontSize: 11, fill: '#000', font: '11px "Liberation Sans", Arial, sans-serif' }, z: 100 },
    { type: 'group', left: 1910, top: 30, z: 100, children: [
      { type: 'rect', shape: { x: 0, y: 0, width: 8, height: 8 }, style: { fill: '#fff', stroke: '#000', lineWidth: 1 } },
      { type: 'text', x: 2, y: 0, style: { text: 'F', font: 'bold 7px "Liberation Sans", Arial, sans-serif', fill: '#000' } }
    ] }
  ]
});
</script></body></html>
